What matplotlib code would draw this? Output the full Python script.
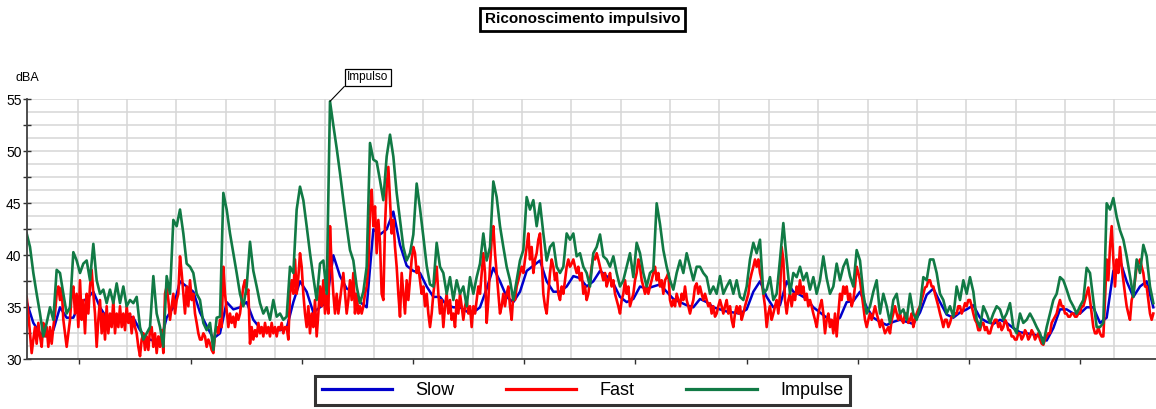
import numpy as np
import matplotlib
matplotlib.use("Agg")
import matplotlib.pyplot as plt
from matplotlib.lines import Line2D

plt.rcParams['font.family'] = ['Liberation Sans', 'DejaVu Sans']

# ---------------- data (dBA), uniform sampling ----------------
title = "Riconoscimento impulsivo"
series_names = ["Slow", "Fast", "Impulse"]
y_label = "dBA"
annotation_text = "Impulso"

# Impulse: one sample per time step
impulse = [
    42.1, 40.8, 38.3, 36.3, 34.4, 32.2, 33.5, 35.0, 33.8, 38.6,
    38.3, 36.3, 34.4, 35.0, 40.3, 39.5, 38.3, 39.2, 39.5, 37.6,
    41.1, 37.6, 36.3, 36.7, 35.4, 36.7, 35.4, 37.3, 35.4, 37.0,
    35.1, 35.7, 35.4, 36.0, 33.1, 31.9, 32.5, 33.1, 38.0, 34.4,
    33.1, 31.2, 38.0, 36.3, 43.4, 42.8, 44.4, 42.1, 39.2, 38.9,
    38.3, 36.3, 35.7,
    33.5, 32.8, 33.5, 30.9, 34.0, 34.1, 46.0, 44.4, 42.1, 40.2,
    38.3, 36.3, 35.1, 37.0, 41.3, 38.5, 37.0, 35.4, 34.4, 35.0,
    33.8, 35.7, 34.1, 34.4, 33.8, 34.1, 38.9, 38.3, 44.4, 46.6,
    45.3, 42.8, 40.2, 37.9, 35.7, 39.2, 39.5, 36.3, 54.8, 52.5,
    50.3, 47.9, 45.3, 42.8, 40.5, 39.5, 37.0, 35.4,
    36.5, 38.9, 50.8, 49.2, 49.0, 47.2, 45.3, 49.5, 51.6, 49.5,
    46.0, 43.4, 40.8, 39.5, 40.2, 42.0, 46.9, 44.5, 41.8, 39.0,
    37.2, 37.0, 41.2, 38.9, 38.3, 36.3, 37.9, 35.7, 37.6, 36.3,
    37.0, 35.1, 37.9, 36.3, 37.9, 39.2, 42.1, 39.5, 40.8, 47.1,
    45.6, 42.8, 40.8, 38.9, 37.6, 35.7, 37.6, 39.5, 40.5, 45.6,
    44.4, 45.3, 42.8, 45.0,
    42.1, 39.5, 40.8, 41.2, 38.9, 38.3, 38.9, 42.1, 41.5, 42.1,
    39.9, 40.2, 38.9, 38.3, 37.0, 40.2, 40.8, 42.0, 39.9, 39.6,
    38.9, 39.9, 38.3, 37.0, 37.6, 38.9, 40.2, 37.9, 41.2, 40.2,
    38.3, 37.0, 38.3, 38.6, 45.0, 43.0, 40.5, 38.9, 37.6, 36.7,
    38.3, 39.5, 38.3, 40.2, 38.9, 37.6, 38.9, 38.9, 38.3, 37.9,
    36.3, 37.0, 36.3, 38.0,
    36.3, 37.0, 37.6, 36.3, 37.6, 36.0, 35.7, 37.0, 39.6, 41.2,
    40.2, 41.5, 36.3, 36.7, 37.9, 35.7, 36.3, 39.6, 43.1, 39.5,
    36.3, 38.3, 37.9, 38.9, 37.6, 38.3, 36.7, 37.9, 36.3, 37.6,
    39.9, 37.8, 36.3, 37.0, 39.2, 37.6, 38.9, 39.6, 38.0, 37.0,
    40.5, 39.5, 36.3, 34.4, 35.1, 36.5, 37.6, 34.4, 36.3, 35.1,
    33.5, 35.7, 36.3, 34.4,
    34.8, 33.8, 36.3, 34.4, 33.8, 35.1, 37.9, 37.6, 39.6, 39.6,
    38.3, 36.3, 35.7, 34.4, 35.1, 34.1, 37.0, 35.7, 37.6, 36.3,
    37.9, 36.5, 33.8, 33.1, 35.1, 34.4, 33.5, 34.4, 35.1, 34.8,
    33.8, 34.4, 35.4, 33.1, 32.5, 34.4, 33.5, 33.8, 34.4, 33.8,
    33.1, 32.5, 31.5, 33.1, 34.4, 35.7, 36.3, 37.9, 37.6, 36.7,
    35.7, 35.1, 34.4, 35.1, 35.7, 38.8, 38.3, 35.7, 33.1, 33.1,
    33.5, 45.0, 44.4, 45.5, 43.7, 42.4, 41.5, 39.9, 38.0, 36.0,
    39.6, 38.3, 41.0, 39.9, 37.0, 35.4,
]

# Fast: two samples per time step
fast = [
    36.0, 34.4, 32.5, 30.6, 31.9, 33.1, 31.5, 33.5, 32.2, 31.2,
    33.5, 32.2, 33.1, 31.2, 33.1, 31.5, 33.1, 34.4, 36.3, 37.0,
    35.7, 36.9, 33.8, 32.5, 31.2, 32.5, 33.8, 36.3, 37.0, 34.4,
    36.3, 33.1, 37.6, 33.8, 35.7, 32.5, 36.3, 34.4, 37.0, 38.6,
    36.3, 34.4, 31.2, 33.8, 35.7, 32.5, 34.4, 31.9, 35.1, 32.5,
    34.4, 33.1, 35.7, 32.5, 34.4, 33.1, 35.1, 33.1, 34.4, 32.8,
    35.1, 33.5, 34.4, 32.5, 34.1, 33.1, 32.5, 31.2, 30.3, 31.9,
    32.5, 30.9, 32.2, 30.9, 32.8, 33.1, 31.2, 32.5, 30.6, 32.2,
    31.2, 32.8, 30.6, 36.3, 37.0, 35.7, 33.8, 35.1, 36.3, 34.4,
    35.7, 36.3, 39.9, 38.3, 36.3, 34.4, 37.0, 35.1, 37.6, 35.7,
    36.3, 34.4, 33.5, 32.5, 31.9,
    31.9, 32.5, 32.2, 31.2, 31.9, 31.5, 30.9, 30.6, 32.5, 33.1,
    32.5, 33.8, 33.1, 38.9, 36.3, 34.7, 33.1, 34.4, 33.5, 34.1,
    33.1, 34.4, 33.8, 34.4, 35.7, 37.0, 37.6, 36.3, 36.7, 31.5,
    33.1, 31.9, 32.8, 32.2, 33.5, 32.5, 33.1, 32.2, 33.5, 32.5,
    33.1, 32.2, 33.5, 32.5, 33.1, 32.2, 33.1, 32.8, 33.5, 32.5,
    33.1, 33.1, 31.9, 36.3, 37.6, 36.3, 39.6, 36.3, 37.9, 40.2,
    38.9, 36.3, 34.4, 33.1, 35.1, 32.5, 34.4, 33.1, 35.7, 32.2,
    34.4, 37.0, 35.1, 37.6, 34.4, 36.3, 34.4, 42.8, 38.9, 36.3,
    34.4, 36.3, 34.4, 35.7, 37.0, 38.3, 36.3, 34.4, 35.7, 37.6,
    35.7, 38.3, 34.4, 36.3, 34.4, 35.1,
    34.4, 35.1, 36.3, 37.0, 38.9, 44.4, 46.3, 42.8, 44.7, 40.2,
    43.4, 41.2, 36.3, 35.7, 42.8, 46.6, 48.5, 45.3, 42.1, 43.4,
    40.8, 38.9, 36.3, 34.1, 38.3, 36.3, 34.4, 37.6, 35.7, 37.6,
    39.6, 40.8, 40.2, 38.3, 38.9, 37.6, 36.3, 37.0, 35.1, 36.3,
    34.4, 33.1, 34.4, 36.3, 37.6, 38.9, 36.3, 34.4, 35.7, 33.1,
    35.1, 36.3, 34.4, 35.7, 33.8, 34.4, 33.1, 35.7, 34.4, 36.3,
    35.1, 33.8, 35.1, 35.7, 34.4, 35.1, 33.1, 35.1, 34.4, 35.7,
    37.0, 36.3, 38.3, 40.2, 38.3, 33.5, 35.7, 38.9, 41.5, 42.8,
    40.2, 38.3, 36.3, 34.4, 35.1, 36.3, 35.1, 36.3, 37.0, 35.1,
    33.8, 36.3, 35.7, 37.0, 37.6, 38.3, 38.9, 38.3, 39.6, 40.8,
    42.1, 39.6, 40.8, 38.3, 39.6, 40.2, 41.5, 42.1,
    39.6, 36.3, 35.1, 34.4, 36.3, 38.3, 39.6, 38.9, 37.6, 38.3,
    36.3, 35.7, 37.0, 36.3, 37.6, 38.9, 39.6, 38.9, 39.2, 39.6,
    38.9, 38.3, 38.9, 37.6, 38.3, 36.3, 37.0, 35.7, 36.3, 37.6,
    38.9, 39.9, 39.6, 40.2, 39.6, 38.9, 38.3, 37.6, 38.3, 37.0,
    37.6, 38.3, 37.0, 37.6, 36.3, 35.7, 35.1, 34.4, 35.7, 36.3,
    37.6, 36.3, 37.0, 35.1, 35.7, 36.3, 37.6, 38.3, 39.6, 38.9,
    37.6, 37.0, 36.3, 37.0, 36.3, 37.0, 37.6, 38.3, 38.9, 37.6,
    38.3, 37.0, 37.6, 36.3, 37.6, 37.9, 38.3, 35.7, 35.1, 35.7,
    35.1, 36.3, 35.7, 35.1, 36.3, 35.7, 37.0, 35.7, 35.1, 34.4,
    35.1, 35.7, 37.0, 37.3, 36.3, 37.0, 36.3, 35.7, 36.3, 35.7,
    35.1, 35.4, 34.4, 35.1, 34.1, 34.4, 35.1, 35.7,
    35.1, 34.4, 35.1, 35.7, 34.4, 35.1, 33.8, 33.1, 34.4, 35.1,
    34.4, 35.1, 33.8, 34.4, 35.1, 35.7, 36.3, 37.6, 38.3, 38.9,
    39.6, 38.9, 39.6, 38.3, 37.6, 36.3, 35.1, 33.1, 34.4, 35.1,
    33.8, 34.4, 35.1, 35.7, 34.4, 36.3, 40.8, 39.6, 35.7, 34.4,
    35.7, 36.3, 35.1, 36.3, 35.7, 37.0, 36.3, 37.6, 36.3, 37.0,
    35.7, 36.3, 35.1, 35.7, 35.1, 34.4, 33.8, 33.1, 34.4, 35.1,
    35.7, 34.4, 32.5, 33.8, 34.4, 33.1, 33.8, 32.5, 34.4, 32.2,
    34.4, 36.3, 35.7, 37.0, 36.3, 37.0, 35.7, 36.3, 35.1, 35.7,
    37.0, 38.9, 38.3, 37.6, 36.3, 35.1, 33.8, 33.1, 33.8, 34.4,
    33.8, 34.4, 35.1, 34.4, 33.8, 33.1, 33.8, 33.1, 32.5, 32.8,
    33.1, 32.5, 33.8, 34.4, 35.1, 34.4, 33.8, 34.4,
    33.8, 33.5, 34.4, 34.4, 33.5, 33.8, 34.4, 33.1, 33.8, 34.4,
    34.8, 35.1, 35.7, 36.3, 36.9, 37.0, 37.6, 37.6, 37.0, 37.0,
    36.3, 35.7, 35.1, 34.4, 33.8, 33.1, 33.8, 33.8, 33.1, 33.5,
    34.1, 34.1, 34.4, 34.4, 35.1, 35.1, 34.4, 34.8, 35.4, 35.1,
    35.7, 35.7, 35.1, 34.4, 33.8, 33.5, 32.8, 32.8, 33.5, 33.5,
    32.8, 33.1, 32.5, 32.5, 33.1, 33.5, 33.8, 33.8, 33.1, 33.5,
    32.8, 33.1, 33.8, 33.5, 32.8, 32.8, 32.2, 32.2, 31.9, 31.9,
    32.5, 32.5, 31.9, 32.2, 32.8, 32.5, 31.9, 32.2, 32.8, 32.5,
    31.9, 32.2, 32.5, 31.9, 31.5, 31.4, 31.9, 32.2, 32.5, 32.5,
    33.5, 33.8, 34.1, 34.4, 35.1, 35.7, 35.1, 35.1, 34.4, 34.4,
    34.1, 34.1, 34.4, 34.4, 34.1, 34.1, 34.4, 34.4, 35.1, 35.1,
    35.7, 36.3, 36.9, 35.7, 34.4, 33.1, 32.5, 32.5, 33.1, 32.5,
    32.2, 32.2, 35.7, 39.6, 37.6, 40.8, 42.8, 39.6, 37.0, 39.6,
    38.3, 40.8, 38.9, 37.6, 36.3, 35.1, 34.4, 33.8, 35.7, 36.3,
    37.6, 38.9, 39.2, 39.6, 38.9, 38.3, 37.0, 37.0, 35.7, 34.4,
    33.8, 34.4,
]

# Slow: one sample every two time steps
slow = [
    35.5, 33.5, 32.5, 32.2, 32.8, 35.0, 34.0, 34.0, 35.5, 35.8,
    36.5, 35.0, 34.0, 34.0, 33.8, 34.2, 34.0, 32.8, 32.0, 31.8,
    31.5, 34.0, 35.0, 37.5, 37.0, 36.5, 34.5, 33.2, 32.0, 32.5,
    35.5, 34.8, 35.0, 35.5, 33.8, 33.0, 32.8, 32.8, 32.8, 33.0,
    35.5, 37.5, 36.5, 34.5, 35.0, 35.5, 40.0, 38.0, 36.8, 36.5,
    35.5, 35.0, 42.5, 42.0, 42.5, 44.2, 41.0, 39.0, 38.5, 38.3,
    37.0, 36.0, 36.0, 35.2, 35.0, 35.0, 34.6, 34.5, 35.0, 36.8,
    38.8, 37.5, 36.0, 35.5, 36.5, 38.5, 39.0, 39.5, 37.5, 36.5,
    36.5, 37.0, 38.0, 37.8, 37.0, 37.5, 38.5, 38.0, 37.3, 36.0,
    35.5, 35.8, 37.0, 36.8, 37.0, 37.2, 36.5, 35.8, 35.5, 35.2,
    35.0, 35.8, 35.5, 35.0, 34.8, 34.6, 34.5, 34.4, 34.8, 36.5,
    37.5, 36.0, 35.0, 35.2, 37.5, 36.5, 36.2, 35.8, 35.0, 34.5,
    34.0, 33.6, 34.0, 35.5, 35.6, 36.5, 35.0, 34.0, 33.6, 33.3,
    33.6, 33.8, 33.6, 33.4, 34.5, 36.2, 36.8, 35.5, 34.3, 34.0,
    34.5, 34.8, 35.2, 34.0, 33.6, 33.4, 33.8, 33.5, 33.0, 32.6,
    32.5, 32.4, 32.2, 31.8, 33.0, 34.8, 34.8, 34.4, 34.4, 35.0,
    35.0, 33.5, 34.0, 38.5, 39.5, 37.5, 36.0, 37.0, 37.5, 35.0,
]

colors = {"Slow": "#0000CC", "Fast": "#FF0000", "Impulse": "#117A45"}

t_imp = np.arange(len(impulse)) * 1.0
t_fast = np.arange(len(fast)) * 0.5
t_slow = np.arange(len(slow)) * 2.0

W, H = 1156, 409
fig = plt.figure(figsize=(W / 100, H / 100), dpi=100)
ax_left = 26.67 / W
ax_bottom = (H - 359.3) / H
ax_h = 260.0 / H
ax = fig.add_axes([ax_left, ax_bottom, 1 - ax_left, ax_h])

xmax = 338.8
ax.set_xlim(0, xmax)
ax.set_ylim(30, 55)

# grid
grid_c = "#D6D6D6"
ax.hlines(np.arange(30, 55.01, 1.25), 0, xmax, colors=grid_c, lw=1.1, zorder=0)
gx = 15.31 + 14.81 * np.arange(22)
ax.vlines(gx, 30, 55, colors=grid_c, lw=1.1, zorder=0)

ax.plot(t_slow, slow, color=colors["Slow"], lw=1.8, zorder=2)
ax.plot(t_fast, fast, color=colors["Fast"], lw=1.9, zorder=3)
ax.plot(t_imp, impulse, color=colors["Impulse"], lw=1.9, zorder=4)

# axes styling
for s in ["top", "right"]:
    ax.spines[s].set_visible(False)
for s in ["left", "bottom"]:
    ax.spines[s].set_color("#404040")
    ax.spines[s].set_linewidth(1.3)
    ax.spines[s].set_zorder(5)

ax.set_yticks(np.arange(30, 55.1, 5))
ax.set_yticks(np.arange(32.5, 55, 5), minor=True)
ax.set_yticklabels([str(int(v)) for v in np.arange(30, 55.1, 5)])
ax.tick_params(axis="y", which="both", direction="inout", length=5.5, width=1.0,
               color="#303030", labelsize=10, pad=1)
xt = 15.79 + 33.36 * np.arange(10)
ax.set_xticks(xt)
ax.set_xticklabels([])
ax.tick_params(axis="x", which="both", direction="out", length=3.5, width=1.0,
               color="#303030")

# annotation on the impulse peak
imax = int(np.argmax(impulse))
ax.annotate(annotation_text, xy=(t_imp[imax], impulse[imax]),
            xytext=(12.5, 13), textcoords="offset points",
            ha="left", va="bottom", fontsize=8.5,
            bbox=dict(boxstyle="square,pad=0.22", fc="white", ec="black", lw=0.9),
            arrowprops=dict(arrowstyle="-", color="black", lw=0.8,
                            shrinkA=0, shrinkB=0, relpos=(0, 0)),
            zorder=6, annotation_clip=False)

# y unit label
fig.text(27 / W, 1 - 78 / H, y_label, ha="center", va="center", fontsize=9)

# title in box
fig.text(582.5 / W, 1 - 19.5 / H, title, ha="center", va="center",
         fontsize=11, fontweight="bold",
         bbox=dict(boxstyle="square,pad=0.3", fc="white", ec="black", lw=2))

# legend
handles = [Line2D([0], [0], color=colors[n], lw=2.3) for n in series_names]
leg = fig.legend(handles, series_names, loc="center",
                 bbox_to_anchor=(582.5 / W, 1 - 390.5 / H), ncol=3,
                 fontsize=13, handlelength=3.9, handletextpad=1.3,
                 columnspacing=2.85, borderpad=0.35, frameon=True,
                 fancybox=False, edgecolor="black")
leg.get_frame().set_linewidth(2.2)

fig.savefig("out.png", dpi=100)
